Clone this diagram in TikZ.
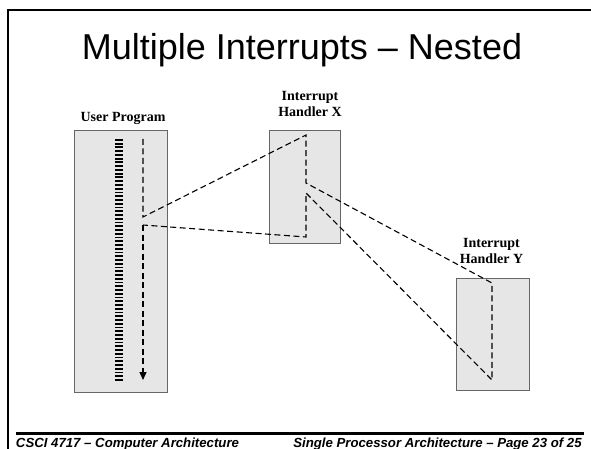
\documentclass[tikz,border=0pt]{standalone}
\usepackage{fontspec}
\setmainfont{Liberation Serif}
\newfontfamily\slidesans{Liberation Sans}
\usetikzlibrary{arrows.meta}

\definecolor{boxfill}{HTML}{E6E6E6}
\definecolor{boxline}{HTML}{666666}

\tikzset{
  progbox/.style={draw=boxline, fill=boxfill, line width=1.4pt},
  flow/.style={line width=1.1pt, dash pattern=on 6pt off 3.5pt},
  boxlabel/.style={font=\fontsize{14}{16}\selectfont\bfseries, anchor=base, inner sep=0pt},
  footer/.style={font=\slidesans\fontsize{13.2}{15}\selectfont\bfseries\itshape, anchor=base, inner sep=0pt}
}

\begin{document}
\begin{tikzpicture}[x=1pt, y=-1pt]
  \useasboundingbox (0,0) rectangle (591,449);

  % slide frame and footer rule
  \draw[line width=2pt] (8,449) -- (8,10.5) -- (591,10.5);
  \draw[line width=3pt] (16,433.5) -- (584,433.5);

  % title
  \node[anchor=base, inner sep=0pt, font=\slidesans\fontsize{36}{40}\selectfont]
    (title) at (302,60) {Multiple Interrupts – Nested};

  % program boxes
  \node[progbox, minimum width=93pt, minimum height=262pt, inner sep=0pt, anchor=north west]
    (user) at (74,130) {};
  \node[progbox, minimum width=71pt, minimum height=113pt, inner sep=0pt, anchor=north west]
    (hx) at (269,130) {};
  \node[progbox, minimum width=73pt, minimum height=112pt, inner sep=0pt, anchor=north west]
    (hy) at (456,278) {};

  % labels
  \node[boxlabel] (userlbl) at (123,122) {User Program};
  \node[boxlabel] (hxlbl1) at (310,101) {Interrupt};
  \node[boxlabel] (hxlbl2) at (310,117) {Handler X};
  \node[boxlabel] (hylbl1) at (491.5,247) {Interrupt};
  \node[boxlabel] (hylbl2) at (491.5,263) {Handler Y};

  % instruction stripes of the user program
  \foreach \k in {0,...,64}{
    \fill (115,{139+\k*3.75}) rectangle (123,{140.9+\k*3.75});
  }

  % control-flow points
  \coordinate (u0) at (143,139);
  \coordinate (u1) at (143,217);
  \coordinate (u2) at (143,225);
  \coordinate (u3) at (143,380);
  \coordinate (x0) at (306,135);
  \coordinate (x1) at (306,183);
  \coordinate (x2) at (306,193);
  \coordinate (x3) at (306,237);
  \coordinate (y0) at (492,283);
  \coordinate (y1) at (492,380);

  % flow of execution
  \draw[flow] (u0) -- (u1) -- (x0) -- (x1) -- (y0) -- (y1) -- (x2) -- (x3) -- (u2);
  \draw[flow, -{Triangle[length=8pt, width=7pt]}] (u2) -- (u3);

  % footer
  \node[footer] (footl) at (127.5,447) {CSCI 4717 – Computer Architecture};
  \node[footer] (footr) at (437.5,447) {Single Processor Architecture – Page 23 of 25};
\end{tikzpicture}
\end{document}
